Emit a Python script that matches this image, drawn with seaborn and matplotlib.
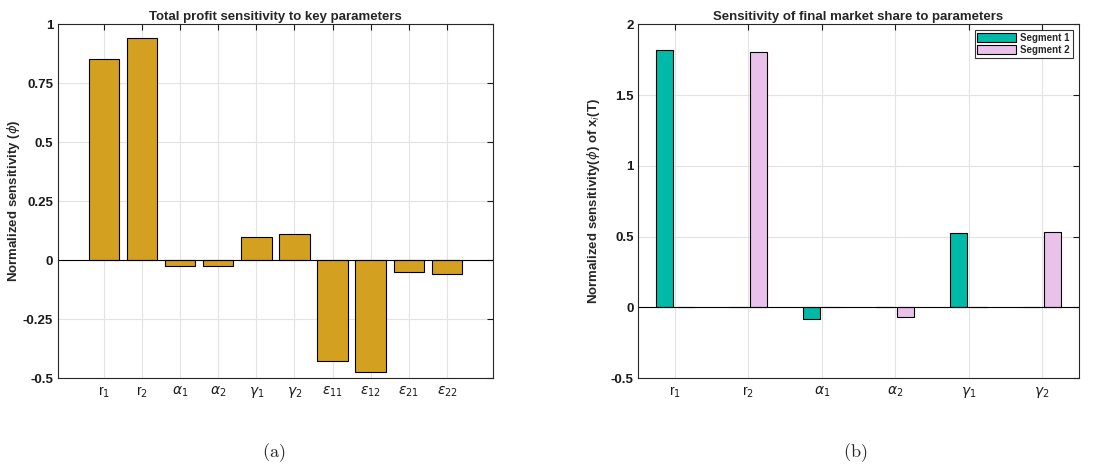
# Sensitivity bar charts: total profit (a) and final market share (b)

import matplotlib
import matplotlib.pyplot as plt
import pandas as pd
import seaborn as sns

matplotlib.use("Agg")

# --- data -------------------------------------------------------------
profit_params = [r"r$_1$", r"r$_2$", r"$\alpha_1$", r"$\alpha_2$", r"$\gamma_1$",
                 r"$\gamma_2$", r"$\epsilon_{11}$", r"$\epsilon_{12}$",
                 r"$\epsilon_{21}$", r"$\epsilon_{22}$"]
profit_sens = [0.853, 0.942, -0.025, -0.023, 0.099, 0.112, -0.428, -0.472, -0.052, -0.057]

share_params = [r"r$_1$", r"r$_2$", r"$\alpha_1$", r"$\alpha_2$", r"$\gamma_1$", r"$\gamma_2$"]
segment1 = [1.821, 0.0, -0.082, 0.0, 0.525, 0.0]
segment2 = [0.0, 1.802, 0.0, -0.068, 0.0, 0.532]
segment_names = ["Segment 1", "Segment 2"]

profit_yticks = [-0.5, -0.25, 0, 0.25, 0.5, 0.75, 1]
share_yticks = [-0.5, 0, 0.5, 1, 1.5, 2]

GOLD = "#D4A020"
TEAL = "#00BAA8"
PINK = "#EAC1EA"
FS = 9.5

sns.set_style("whitegrid")
plt.rcParams["font.family"] = ["Liberation Sans", "DejaVu Sans"]
plt.rcParams["mathtext.fontset"] = "dejavusans"


def matlab_axes(ax, yticks):
    """Boxed axes with inward ticks and light grid, MATLAB look."""
    for sp in ax.spines.values():
        sp.set_visible(True)
        sp.set_color("#262626")
        sp.set_linewidth(0.8)
    ax.tick_params(direction="in", top=True, right=True, length=4, width=0.8,
                   labelsize=FS, colors="#1a1a1a")
    ax.tick_params(axis="x", pad=5, labelsize=FS + 0.5)
    ax.set_yticks(yticks)
    ax.set_yticklabels([f"{t:g}" for t in yticks], fontweight="bold")
    ax.grid(True, color="#E3E3E3", linewidth=0.8)
    ax.set_axisbelow(True)
    ax.axhline(0, color="black", linewidth=0.8, zorder=1.5)
    ax.set_xlabel("")


fig = plt.figure(figsize=(10.95, 4.68), dpi=100)
ax1 = fig.add_axes([0.053, 0.192, 0.397, 0.756])
ax2 = fig.add_axes([0.583, 0.192, 0.402, 0.756])

# (a) total profit
sns.barplot(x=profit_params, y=profit_sens, color=GOLD, edgecolor="black",
            linewidth=0.8, width=0.8, saturation=1, ax=ax1)
ax1.set_xlim(-1.2, 10.2)
ax1.set_ylim(-0.5, 1)
matlab_axes(ax1, profit_yticks)
ax1.set_title("Total profit sensitivity to key parameters", fontsize=FS,
              fontweight="bold", pad=3)
ax1.set_ylabel(r"Normalized sensitivity ($\phi$)", fontsize=FS, fontweight="bold",
               labelpad=1)

# (b) final market share
share_df = pd.DataFrame({
    "param": share_params * 2,
    "segment": [segment_names[0]] * len(share_params) + [segment_names[1]] * len(share_params),
    "value": segment1 + segment2,
})
sns.barplot(data=share_df, x="param", y="value", hue="segment",
            palette=[TEAL, PINK], width=0.56, gap=0.18, edgecolor="black",
            linewidth=0.8, saturation=1, ax=ax2)
ax2.set_xlim(-0.5, 5.5)
ax2.set_ylim(-0.5, 2)
matlab_axes(ax2, share_yticks)
ax2.set_title("Sensitivity of final market share to parameters", fontsize=FS,
              fontweight="bold", pad=3)
ax2.set_ylabel(r"Normalized sensitivity($\phi$) of x$_i$(T)", fontsize=FS,
               fontweight="bold", labelpad=6)
leg = ax2.legend(loc="upper right", fontsize=7, frameon=True, fancybox=False,
                 handlelength=4.0, handleheight=1.0, borderpad=0.3,
                 labelspacing=0.2, handletextpad=0.4, borderaxespad=0.6)
leg.get_frame().set_edgecolor("black")
leg.get_frame().set_linewidth(0.8)
for t in leg.get_texts():
    t.set_fontweight("bold")

# subfigure captions
fig.text(0.25, 0.032, r"$\mathrm{(a)}$", math_fontfamily="cm", fontsize=13,
         ha="center", va="center")
fig.text(0.781, 0.032, r"$\mathrm{(b)}$", math_fontfamily="cm", fontsize=13,
         ha="center", va="center")

fig.savefig("out.png", dpi=100)
